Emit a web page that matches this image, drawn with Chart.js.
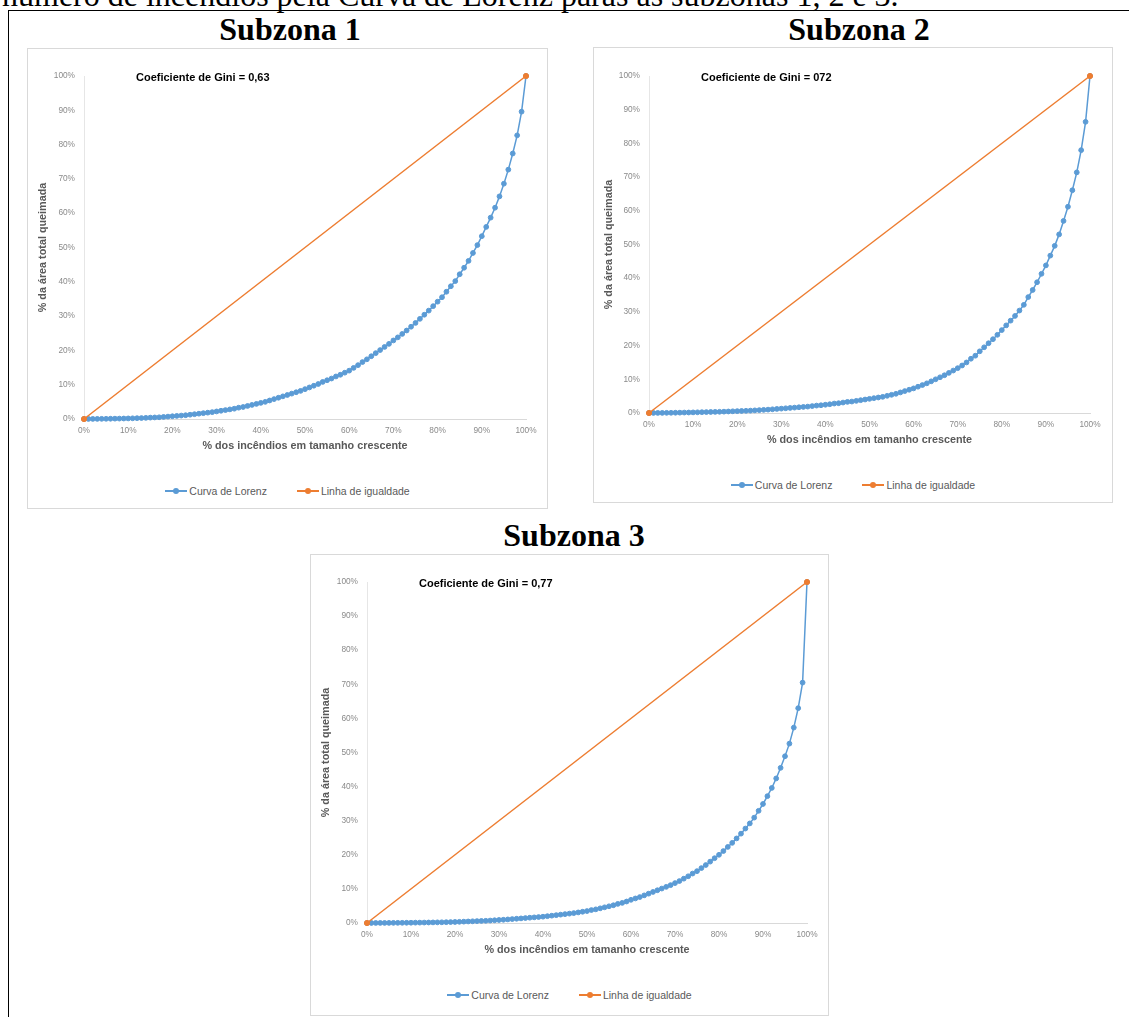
<!DOCTYPE html>
<html>
<head>
<meta charset="utf-8">
<title>Curva de Lorenz - subzonas 1, 2 e 3</title>
<script src="https://cdn.jsdelivr.net/npm/chart.js@4.4.1/dist/chart.umd.min.js"></script>
<style>
  body { margin: 0; background: #fff; width: 1129px; height: 1017px; overflow: hidden; position: relative; font-family: "Liberation Sans", Arial, sans-serif; }
  .intro { position: absolute; left: 2px; top: -23px; font: 32px "Liberation Serif", serif; white-space: nowrap; color: #000; }
  .rule-top { position: absolute; left: 8px; top: 10px; width: 1121px; height: 1px; background: #000; }
  .rule-left { position: absolute; left: 8px; top: 10px; width: 1px; height: 1007px; background: #000; }
  .sub { position: absolute; font: bold 32px "Liberation Serif", serif; white-space: nowrap; transform: translateX(-50%); color: #000; }
  .panel { position: absolute; border: 1px solid #d9d9d9; box-sizing: border-box; background: #fff; }
  .panel canvas { position: absolute; left: 0; top: 0; }
  .gini { position: absolute; font: bold 11px "Liberation Sans", Arial, sans-serif; line-height: 13px; color: #000; white-space: nowrap; }
  .legend { position: absolute; left: 0; width: 100%; height: 14px; display: flex; justify-content: center; align-items: center; font: 10.5px "Liberation Sans", Arial, sans-serif; color: #595959; }
  .item { display: flex; align-items: center; margin: 0 15px; }
  .swatch { position: relative; width: 22px; height: 14px; margin-right: 2px; }
  .swatch i { position: absolute; left: 0; top: 6px; width: 22px; height: 2px; }
  .swatch b { position: absolute; left: 8px; top: 4px; width: 6px; height: 6px; border-radius: 50%; }
</style>
</head>
<body>
<div class="intro">número de incêndios pela Curva de Lorenz paras as subzonas 1, 2 e 3.</div>
<div class="rule-top"></div>
<div class="rule-left"></div>

<script>
// % dos incêndios (eixo x), um ponto por cada 1%
const firePct = [
  0, 1, 2, 3, 4, 5, 6, 7, 8, 9, 10, 11, 12, 13, 14, 15, 16, 17, 18, 19,
  20, 21, 22, 23, 24, 25, 26, 27, 28, 29, 30, 31, 32, 33, 34, 35, 36, 37, 38, 39,
  40, 41, 42, 43, 44, 45, 46, 47, 48, 49, 50, 51, 52, 53, 54, 55, 56, 57, 58, 59,
  60, 61, 62, 63, 64, 65, 66, 67, 68, 69, 70, 71, 72, 73, 74, 75, 76, 77, 78, 79,
  80, 81, 82, 83, 84, 85, 86, 87, 88, 89, 90, 91, 92, 93, 94, 95, 96, 97, 98, 99, 100
];

// % acumulada da área ardida - Subzona 1
const lorenz1 = [
  0, 0.01, 0.02, 0.03, 0.05, 0.06, 0.08, 0.1, 0.12, 0.14,
  0.17, 0.2, 0.24, 0.28, 0.33, 0.4, 0.45, 0.5, 0.6, 0.7,
  0.8, 0.9, 1.0, 1.1, 1.25, 1.4, 1.55, 1.7, 1.85, 2.0,
  2.2, 2.4, 2.6, 2.8, 3.0, 3.3, 3.5, 3.8, 4.1, 4.4,
  4.7, 5.0, 5.4, 5.8, 6.2, 6.6, 7.0, 7.4, 7.8, 8.2,
  8.7, 9.2, 9.7, 10.2, 10.8, 11.3, 11.8, 12.4, 12.9, 13.5,
  14.1, 14.9, 15.7, 16.6, 17.4, 18.3, 19.2, 20.1, 21.0, 21.9,
  22.9, 23.8, 24.8, 25.8, 26.9, 28.0, 29.2, 30.4, 31.6, 32.9,
  34.2, 35.5, 37.1, 38.7, 40.2, 42.2, 44.1, 46.1, 48.4, 50.7,
  53.3, 56.0, 58.7, 61.6, 64.9, 68.6, 72.7, 77.4, 82.7, 89.6, 100
];

// Subzona 2
const lorenz2 = [
  0, 0.01, 0.02, 0.03, 0.05, 0.06, 0.08, 0.1, 0.13, 0.15,
  0.18, 0.21, 0.24, 0.27, 0.3, 0.33, 0.36, 0.4, 0.45, 0.5,
  0.55, 0.6, 0.65, 0.7, 0.78, 0.85, 0.93, 1.0, 1.1, 1.2,
  1.3, 1.4, 1.5, 1.6, 1.7, 1.8, 1.9, 2.05, 2.2, 2.3,
  2.45, 2.6, 2.8, 2.9, 3.1, 3.3, 3.4, 3.6, 3.8, 4.0,
  4.2, 4.4, 4.6, 4.8, 5.1, 5.4, 5.7, 6.1, 6.5, 6.9,
  7.3, 7.8, 8.3, 8.8, 9.4, 10.0, 10.6, 11.2, 11.9, 12.6,
  13.3, 14.1, 15.0, 16.1, 17.0, 18.3, 19.5, 20.7, 21.9, 23.2,
  24.6, 26.0, 27.4, 28.8, 30.4, 32.1, 34.4, 36.5, 38.8, 41.3,
  43.8, 46.7, 49.6, 53.0, 57.0, 61.2, 66.1, 71.4, 78.0, 86.4, 100
];

// Subzona 3
const lorenz3 = [
  0, 0.005, 0.01, 0.015, 0.02, 0.03, 0.04, 0.05, 0.06, 0.07,
  0.08, 0.1, 0.11, 0.13, 0.15, 0.17, 0.19, 0.21, 0.24, 0.27,
  0.3, 0.35, 0.4, 0.45, 0.5, 0.55, 0.6, 0.65, 0.72, 0.8,
  0.88, 0.95, 1.05, 1.15, 1.25, 1.35, 1.45, 1.55, 1.65, 1.75,
  1.85, 2.0, 2.15, 2.3, 2.45, 2.6, 2.75, 2.9, 3.1, 3.3,
  3.5, 3.8, 4.0, 4.3, 4.6, 4.9, 5.2, 5.6, 5.9, 6.3,
  6.8, 7.2, 7.6, 8.1, 8.6, 9.1, 9.6, 10.1, 10.6, 11.1,
  11.7, 12.3, 13.0, 13.7, 14.5, 15.2, 16.1, 17.0, 18.0, 19.0,
  20.0, 21.1, 22.3, 23.5, 24.8, 26.2, 27.7, 29.2, 30.9, 32.9,
  34.9, 37.2, 39.6, 42.4, 45.5, 48.9, 52.6, 57.3, 63.0, 70.5, 100
];

// Linha de igualdade
const equalityX = [0, 100];
const equalityY = [0, 100];

const subzoneTitles = ['Subzona 1', 'Subzona 2', 'Subzona 3'];
const giniLabels = ['Coeficiente de Gini = 0,63', 'Coeficiente de Gini = 072', 'Coeficiente de Gini = 0,77'];
const seriesNames = ['Curva de Lorenz', 'Linha de igualdade'];
const xTitle = '% dos incêndios em tamanho crescente';
const yTitle = '% da área total queimada';
const tickSuffix = '%';

const BLUE = '#5B9BD5';
const ORANGE = '#ED7D31';

// page layout (pixels): frame box and plot area of each picture
const panels = [
  { box: [27, 48, 521, 461], plot: [84, 76, 526, 419], heading: [290, 11], values: lorenz1 },
  { box: [593, 47, 520, 456], plot: [649, 76, 1090, 413], heading: [859, 11], values: lorenz2 },
  { box: [310, 554, 519, 462], plot: [367, 582, 807, 923], heading: [574, 517], values: lorenz3 }
];

function makeLegend(panel, top) {
  const lg = document.createElement('div');
  lg.className = 'legend';
  lg.style.top = top + 'px';
  [BLUE, ORANGE].forEach((c, i) => {
    const item = document.createElement('div');
    item.className = 'item';
    item.innerHTML = `<span class="swatch"><i style="background:${c}"></i><b style="background:${c}"></b></span><span>${seriesNames[i]}</span>`;
    lg.appendChild(item);
  });
  panel.appendChild(lg);
}

function buildPanel(p, idx) {
  const [bx, by, bw, bh] = p.box;
  const [pl, pt, pr, pb] = p.plot;
  const ox = bx + 1, oy = by + 1;   // canvas origin inside the border

  const h = document.createElement('div');
  h.className = 'sub';
  h.textContent = subzoneTitles[idx];
  h.style.left = p.heading[0] + 'px';
  h.style.top = p.heading[1] + 'px';
  document.body.appendChild(h);

  const panel = document.createElement('div');
  panel.className = 'panel';
  Object.assign(panel.style, { left: bx + 'px', top: by + 'px', width: bw + 'px', height: bh + 'px' });
  document.body.appendChild(panel);

  const xAxisH = 34;
  const cw = bw - 2;
  const ch = pb + xAxisH - oy;
  const canvas = document.createElement('canvas');
  canvas.width = cw;
  canvas.height = ch;
  canvas.style.width = cw + 'px';
  canvas.style.height = ch + 'px';
  panel.appendChild(canvas);

  const gini = document.createElement('div');
  gini.className = 'gini';
  gini.textContent = giniLabels[idx];
  gini.style.left = (pl + 52 - ox) + 'px';
  gini.style.top = (pt + 1 - 6.5 - oy) + 'px';
  panel.appendChild(gini);

  makeLegend(panel, pb + 72 - 7 - oy);

  const tickFont = { family: '"Liberation Sans", Arial, sans-serif', size: 8.3 };
  const titleFont = { family: '"Liberation Sans", Arial, sans-serif', size: 10.8, weight: 'bold' };

  new Chart(canvas.getContext('2d'), {
    type: 'line',
    data: {
      datasets: [
        {
          label: seriesNames[0],
          data: firePct.map((x, i) => ({ x: x, y: p.values[i] })),
          borderColor: BLUE,
          backgroundColor: BLUE,
          pointBackgroundColor: BLUE,
          pointBorderColor: BLUE,
          borderWidth: 1.5,
          pointRadius: 2.4,
          pointBorderWidth: 1,
          tension: 0,
          order: 2
        },
        {
          label: seriesNames[1],
          data: equalityX.map((x, i) => ({ x: x, y: equalityY[i] })),
          borderColor: ORANGE,
          backgroundColor: ORANGE,
          pointBackgroundColor: ORANGE,
          pointBorderColor: ORANGE,
          borderWidth: 1.5,
          pointRadius: 2.6,
          pointBorderWidth: 1,
          tension: 0,
          order: 1
        }
      ]
    },
    options: {
      responsive: false,
      animation: false,
      devicePixelRatio: 1,
      clip: false,
      layout: {
        padding: { left: 0, top: pt - oy, right: ox + cw - pr, bottom: 0 }
      },
      plugins: {
        legend: { display: false },
        tooltip: { enabled: false }
      },
      scales: {
        x: {
          type: 'linear',
          min: 0,
          max: 100,
          grid: { display: false, drawTicks: false },
          border: { display: true, color: '#d9d9d9', width: 1 },
          ticks: {
            stepSize: 10,
            padding: 7,
            color: '#8a8a8a',
            font: tickFont,
            maxRotation: 0,
            autoSkip: false,
            callback: v => v + tickSuffix
          },
          title: { display: true, text: xTitle, color: '#595959', font: titleFont, padding: { top: 0, bottom: 0 } },
          afterFit: s => { s.height = xAxisH; }
        },
        y: {
          min: 0,
          max: 100,
          grid: { display: false, drawTicks: false },
          border: { display: true, color: '#e6e6e6', width: 1 },
          ticks: {
            stepSize: 10,
            padding: 9,
            color: '#8a8a8a',
            font: tickFont,
            callback: v => v + tickSuffix
          },
          title: { display: true, text: yTitle, color: '#595959', font: titleFont, padding: { top: 8.5, bottom: 0 } },
          afterFit: s => { s.width = pl - ox; }
        }
      }
    }
  });
}

panels.forEach(buildPanel);
</script>
</body>
</html>
